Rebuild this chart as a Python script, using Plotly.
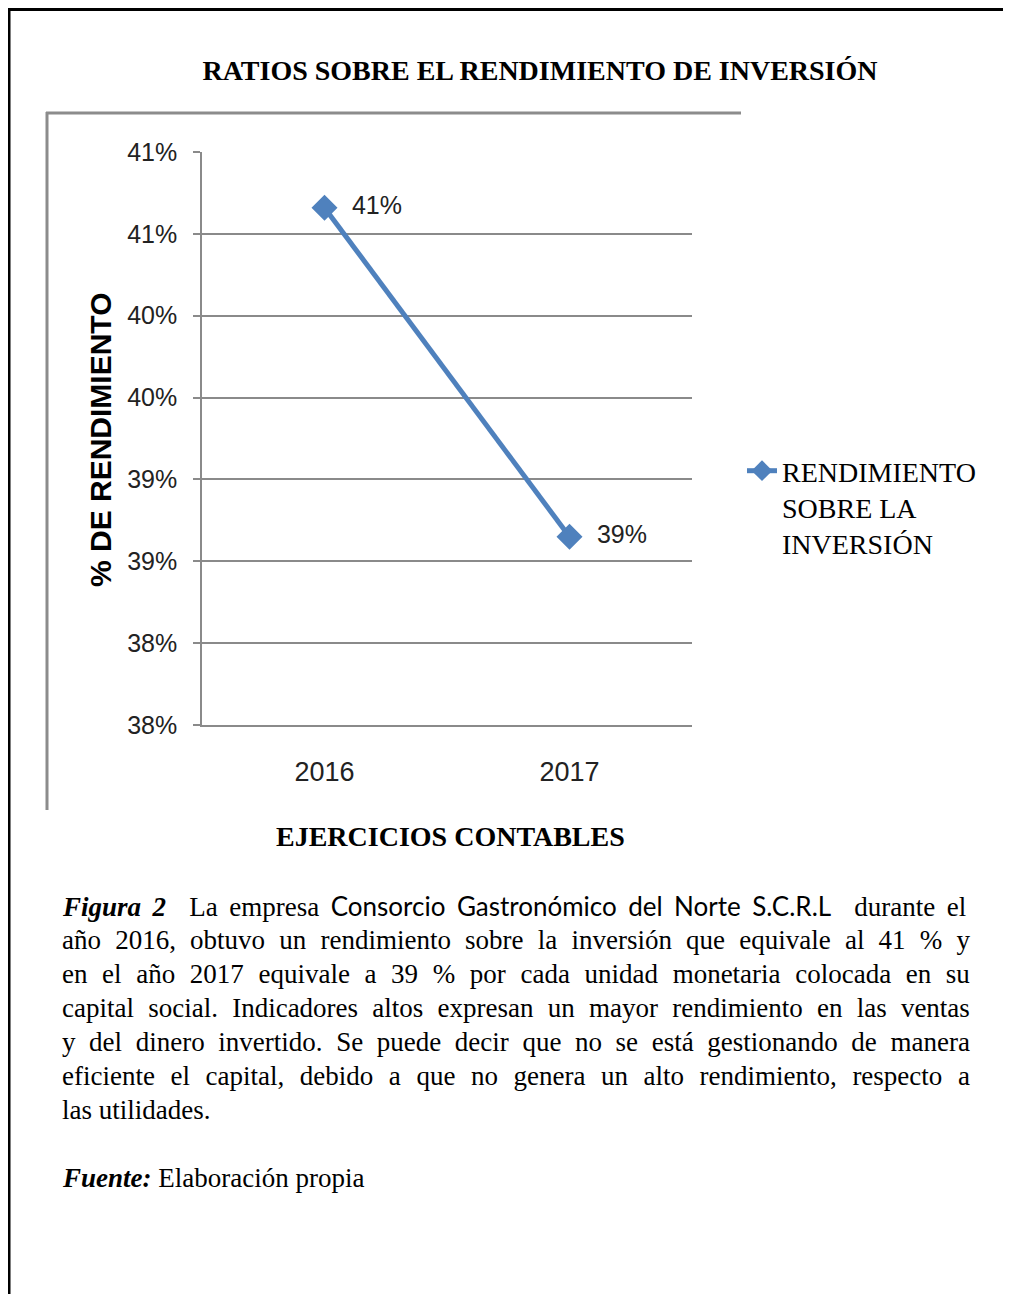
import plotly.graph_objects as go

# data
years = ['2016', '2017']
rendimiento = [0.4066, 0.3865]
point_labels = ['41%', '39%']

y_tickvals = [0.375, 0.38, 0.385, 0.39, 0.395, 0.40, 0.405, 0.41]
y_ticktext = ['38%', '38%', '39%', '39%', '40%', '40%', '41%', '41%']

caption_first = ('<b><i>Figura 2</i></b>  La empresa '
                 '<span style="font-family:Lato;font-size:26px">Consorcio Gastronómico del Norte S.C.R.L</span>'
                 '  durante el')
caption_lines = [
    'año 2016, obtuvo un rendimiento sobre la inversión que equivale al 41 % y',
    'en el año 2017 equivale a 39 % por cada unidad monetaria colocada en su',
    'capital social. Indicadores altos expresan un mayor rendimiento en las ventas',
    'y del dinero invertido. Se puede decir que no se está gestionando de manera',
    'eficiente el capital, debido a que no genera un alto rendimiento, respecto a',
]
caption_last = 'las utilidades.'
fuente = '<b><i>Fuente:</i></b> Elaboración propia'

# page is drawn inside the default 8px body margin
W, H = 995, 1286


def xp(px):
    return (px - 8) / W


def yp(px):
    return 1 - (px - 8) / H


serif = 'Liberation Serif, Times New Roman, serif'
sans = 'Liberation Sans, Arial, sans-serif'
blue = '#4F81BD'
grid = '#8a8a8a'
cap_size = 27
text_left, text_right = 60, 968

# Times advance widths (1/1000 em), used to justify the caption lines
times_w = {' ': 250, ',': 250, '.': 250, '%': 833, ':': 278}
times_w.update({d: 500 for d in '0123456789'})
times_w.update(dict(zip('ABCDEFGHIJKLMNOPQRSTUVWXYZ',
                        [722, 667, 667, 722, 611, 556, 722, 722, 333, 389, 722, 611, 889,
                         722, 722, 556, 722, 667, 556, 611, 722, 722, 944, 722, 722, 611])))
times_w.update(dict(zip('abcdefghijklmnopqrstuvwxyz',
                        [444, 500, 444, 500, 444, 333, 500, 500, 278, 278, 500, 278, 778,
                         500, 500, 500, 500, 333, 389, 278, 500, 500, 722, 500, 500, 444])))
times_w.update({'á': 444, 'é': 444, 'í': 278, 'ó': 500, 'ú': 500, 'ñ': 500})


def justify(line):
    natural = sum(times_w.get(c, 500) for c in line) * cap_size / 1000
    gap = (text_right - text_left - natural) / line.count(' ')
    return f'<span style="word-spacing:{gap:.2f}px">{line}</span>'


fig = go.Figure(go.Scatter(
    x=years, y=rendimiento,
    mode='lines+markers+text',
    name='RENDIMIENTO<br>SOBRE LA<br>INVERSIÓN',
    line=dict(color=blue, width=5),
    marker=dict(symbol='diamond', size=20, color=blue),
    text=['  ' + t for t in point_labels],
    textposition='middle right',
    textfont=dict(family=sans, size=25, color='#222'),
))

caption = ['<span style="word-spacing:4.8px">' + caption_first + '</span>']
caption += [justify(l) for l in caption_lines]
caption += [caption_last]

annotations = [
    dict(text='<b>% DE RENDIMIENTO</b>', x=xp(101), y=yp(440), textangle=-90,
         font=dict(family=sans, size=30, color='black')),
    dict(text='<b>EJERCICIOS CONTABLES</b>', x=xp(450), y=yp(836),
         font=dict(family=serif, size=28, color='black')),
]
for i, line in enumerate(caption):
    annotations.append(dict(text=line, x=xp(text_left), y=yp(906 + 34 * i), xanchor='left',
                            font=dict(family=serif, size=cap_size, color='black')))
annotations.append(dict(text=fuente, x=xp(text_left), y=yp(1178), xanchor='left',
                        font=dict(family=serif, size=cap_size, color='black')))
for a in annotations:
    a.update(xref='paper', yref='paper', showarrow=False)
    a.setdefault('xanchor', 'center')
    a.setdefault('yanchor', 'middle')

shapes = [
    # page border
    dict(type='line', x0=xp(8), x1=xp(1003), y0=yp(9.5), y1=yp(9.5), line=dict(color='black', width=3)),
    dict(type='line', x0=xp(9), x1=xp(9), y0=yp(8), y1=yp(1294), line=dict(color='black', width=3)),
    # chart frame
    dict(type='line', x0=xp(46), x1=xp(741), y0=yp(113), y1=yp(113), line=dict(color='#8c8c8c', width=3)),
    dict(type='line', x0=xp(47), x1=xp(47), y0=yp(112), y1=yp(810), line=dict(color='#8c8c8c', width=3)),
]
for s in shapes:
    s.update(xref='paper', yref='paper')

fig.update_layout(
    width=W, height=H, autosize=False,
    margin=dict(l=0, r=0, t=0, b=0, pad=0, autoexpand=False),
    paper_bgcolor='white', plot_bgcolor='white',
    title=dict(text='<b>RATIOS SOBRE EL RENDIMIENTO DE INVERSIÓN</b>',
               x=xp(540), xanchor='center', y=yp(70), yanchor='middle',
               font=dict(family=serif, size=28, color='black')),
    showlegend=True,
    legend=dict(x=xp(742), y=yp(446), xanchor='left', yanchor='top', valign='top',
                font=dict(family=serif, size=28, color='black'),
                bgcolor='rgba(0,0,0,0)'),
    annotations=annotations,
    shapes=shapes,
)
fig.update_xaxes(
    type='category', range=[-0.5, 1.5], domain=[xp(202), xp(692)],
    showgrid=False, showline=True, linecolor=grid, linewidth=1.5,
    ticks='', ticklabelstandoff=22, automargin=False,
    tickfont=dict(family=sans, size=27, color='#222'),
)
fig.update_yaxes(
    range=[0.375, 0.41], domain=[yp(725), yp(152)],
    tickvals=y_tickvals, ticktext=y_ticktext,
    showgrid=True, gridcolor=grid, gridwidth=1.5,
    showline=True, linecolor=grid, linewidth=1.5,
    ticks='outside', ticklen=7, tickcolor=grid, tickwidth=1.5,
    ticklabelstandoff=11, zeroline=False, automargin=False,
    tickfont=dict(family=sans, size=25, color='#222'),
)

fig.write_html('out.html')
